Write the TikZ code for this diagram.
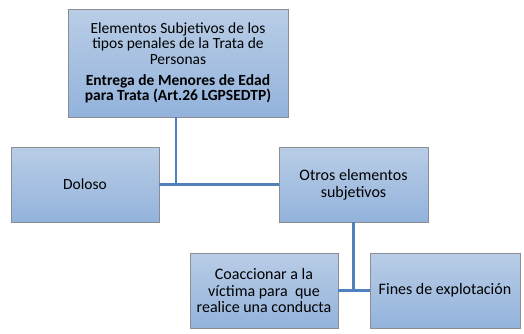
\documentclass[tikz,border=0pt]{standalone}
\usepackage{fontspec}
\setmainfont{Carlito}
\usetikzlibrary{shadows}
\definecolor{cajaarriba}{HTML}{B9CDE6}
\definecolor{cajaabajo}{HTML}{93B3DC}
\definecolor{borde}{HTML}{8A8E94}
\definecolor{linea}{HTML}{4F81BD}
\begin{document}
\begin{tikzpicture}[x=1pt, y=-1pt, every node/.style={font=\fontsize{15.5}{15.4}\selectfont},
    caja/.style={draw=borde, line width=0.8pt, top color=cajaarriba, bottom color=cajaabajo,
      align=center, inner sep=2pt, drop shadow={opacity=0.25, shadow xshift=1pt, shadow yshift=-1pt}},
    rama/.style={draw=linea, line width=2.4pt}]
  \useasboundingbox (0,0) rectangle (524,333);
  % Caja principal
  \node[caja, minimum width=220pt, minimum height=108pt] (raiz) at (178,63)
    {Elementos Subjetivos de los\\tipos penales de la Trata de\\Personas\\[6pt]
     \textbf{Entrega de Menores de Edad}\\\textbf{para Trata (Art.26 LGPSEDTP)}};
  % Segundo nivel
  \node[caja, minimum width=148pt, minimum height=75pt] (doloso) at (85,184.5) {Doloso};
  \node[caja, minimum width=149pt, minimum height=75pt,
    font=\fontsize{16}{16.7}\selectfont] (otros) at (353.5,184.5) {Otros elementos\\subjetivos};
  % Tercer nivel
  \node[caja, minimum width=148pt, minimum height=75pt,
    font=\fontsize{16}{16.7}\selectfont] (coaccion) at (264,290.5)
    {Coaccionar a la\\víctima para \ que\\realice una conducta};
  \node[caja, minimum width=150pt, minimum height=75pt,
    font=\fontsize{16}{16.7}\selectfont] (fines) at (445,290.5) {Fines de explotación};
  % Conectores
  \draw[rama] (doloso.east) -- (otros.west);
  \draw[rama] ([xshift=-2pt]raiz.south) -- ([xshift=-2pt]raiz.south |- doloso.east);
  \draw[rama] (coaccion.east) -- (fines.west);
  \draw[rama] (otros.south) -- (otros.south |- coaccion.east);
\end{tikzpicture}
\end{document}
